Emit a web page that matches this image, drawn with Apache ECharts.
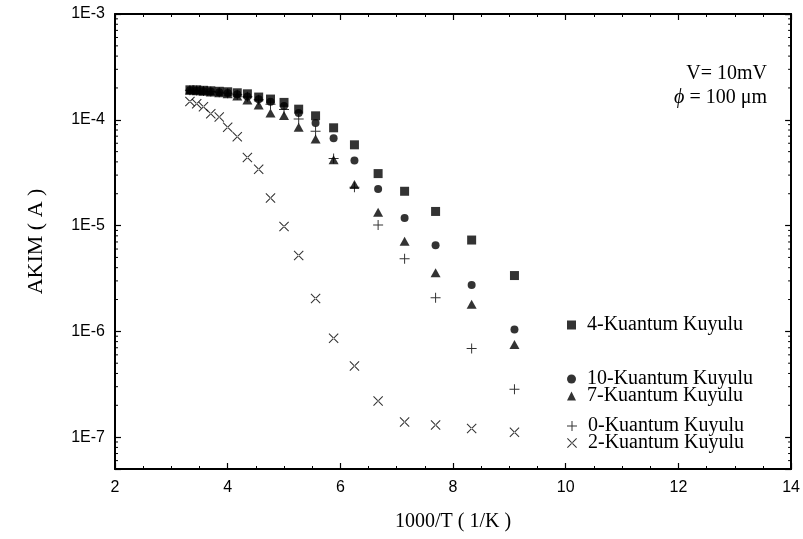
<!DOCTYPE html>
<html>
<head>
<meta charset="utf-8">
<script src="https://cdn.jsdelivr.net/npm/echarts@6/dist/echarts.min.js"></script>
<style>
html,body{margin:0;padding:0;background:#fff;}
#chart{width:803px;height:539px;}
</style>
</head>
<body>
<div id="chart"></div>
<script>
// 1000/T values (1/K)
var xVals = [3.33, 3.45, 3.57, 3.70, 3.85, 4.00, 4.17, 4.35, 4.55, 4.76, 5.00, 5.26, 5.56, 5.88, 6.25, 6.67, 7.14, 7.69, 8.33, 9.09];
// currents (A)
var qw4  = [1.92e-4, 1.92e-4, 1.90e-4, 1.88e-4, 1.86e-4, 1.84e-4, 1.80e-4, 1.76e-4, 1.64e-4, 1.57e-4, 1.46e-4, 1.26e-4, 1.09e-4, 8.4e-5, 5.8e-5, 3.1e-5, 2.11e-5, 1.36e-5, 7.3e-6, 3.37e-6];
var qw10 = [1.90e-4, 1.89e-4, 1.87e-4, 1.85e-4, 1.82e-4, 1.79e-4, 1.74e-4, 1.66e-4, 1.56e-4, 1.48e-4, 1.35e-4, 1.16e-4, 9.3e-5, 6.7e-5, 4.13e-5, 2.22e-5, 1.18e-5, 6.5e-6, 2.74e-6, 1.04e-6];
var qw7  = [1.90e-4, 1.88e-4, 1.86e-4, 1.83e-4, 1.80e-4, 1.76e-4, 1.68e-4, 1.54e-4, 1.38e-4, 1.16e-4, 1.10e-4, 8.5e-5, 6.6e-5, 4.2e-5, 2.44e-5, 1.34e-5, 7.1e-6, 3.58e-6, 1.8e-6, 7.5e-7];
var qw0  = [1.90e-4, 1.89e-4, 1.87e-4, 1.85e-4, 1.82e-4, 1.78e-4, 1.72e-4, 1.65e-4, 1.55e-4, 1.40e-4, 1.25e-4, 1.02e-4, 7.8e-5, 4.3e-5, 2.3e-5, 1.01e-5, 4.85e-6, 2.08e-6, 6.9e-7, 2.84e-7];
var qw2  = [1.49e-4, 1.42e-4, 1.33e-4, 1.14e-4, 1.06e-4, 8.5e-5, 6.9e-5, 4.4e-5, 3.4e-5, 1.82e-5, 9.8e-6, 5.2e-6, 2.05e-6, 8.6e-7, 4.7e-7, 2.2e-7, 1.39e-7, 1.30e-7, 1.21e-7, 1.11e-7];

var seriesNames = ['4-Kuantum Kuyulu', '10-Kuantum Kuyulu', '7-Kuantum Kuyulu', '0-Kuantum Kuyulu', '2-Kuantum Kuyulu'];
var xTicks = [2, 4, 6, 8, 10, 12, 14];
var yTickLabels = ['1E-7', '1E-6', '1E-5', '1E-4', '1E-3'];

var SERIF = '"Liberation Serif", "Times New Roman", serif';
var SANS = '"Liberation Sans", Arial, sans-serif';
var PLUS = 'path://M4.5,0H5.5V10H4.5Z M0,4.5H10V5.5H0Z';
var CROSS = 'path://M0,0.75L0.75,0L10,9.25L9.25,10Z M10,0.75L9.25,0L0,9.25L0.75,10Z';

function pairs(ys) { return xVals.map(function (x, i) { return [x, ys[i]]; }); }

// minor tick positions for the log axis (2..9 x 10^n)
var minorY = [];
for (var e = -8; e <= -4; e++) {
  for (var m = 2; m <= 9; m++) {
    var v = m * Math.pow(10, e);
    if (v > 5e-8 && v < 1e-3) minorY.push([2, v]);
  }
}

var chart = echarts.init(document.getElementById('chart'), null, {renderer: 'canvas'});

var axisLine = {show: true, lineStyle: {color: '#000', width: 2}};

var option = {
  backgroundColor: '#fff',
  animation: false,
  grid: {left: 115, right: 10, top: 14, bottom: 70},
  xAxis: [{
    type: 'value', min: 2, max: 14, interval: 2, position: 'bottom',
    axisLine: axisLine,
    axisTick: {show: true, inside: true, length: 6, lineStyle: {color: '#000', width: 1.2}},
    minorTick: {show: true, splitNumber: 4, length: 3, lineStyle: {color: '#000', width: 1}},
    splitLine: {show: false},
    axisLabel: {color: '#000', fontFamily: SANS, fontSize: 16, margin: 11,
      formatter: function (v) { return xTicks.indexOf(v) >= 0 ? String(v) : ''; }},
    name: '1000/T ( 1/K )', nameLocation: 'middle', nameGap: 43,
    nameTextStyle: {color: '#000', fontFamily: SERIF, fontSize: 20}
  }, {
    type: 'value', min: 2, max: 14, interval: 2, position: 'top',
    axisLine: axisLine,
    axisTick: {show: true, inside: true, length: 6, lineStyle: {color: '#000', width: 1.2}},
    minorTick: {show: true, splitNumber: 4, length: 3, lineStyle: {color: '#000', width: 1}},
    splitLine: {show: false},
    axisLabel: {show: false}
  }],
  yAxis: [{
    type: 'log', logBase: 10, min: 5e-8, max: 1e-3, position: 'left',
    axisLine: axisLine,
    axisTick: {show: true, inside: true, length: 6, lineStyle: {color: '#000', width: 1.2}},
    splitLine: {show: false},
    axisLabel: {color: '#000', fontFamily: SANS, fontSize: 16, margin: 10,
      formatter: function (v) {
        var l = Math.log(v) / Math.LN10;
        if (Math.abs(l - Math.round(l)) > 1e-6) return '';
        var s = '1E' + Math.round(l);
        return yTickLabels.indexOf(s) >= 0 ? s : '';
      }},
    name: 'AKIM ( A )', nameLocation: 'middle', nameGap: 68,
    nameTextStyle: {color: '#000', fontFamily: SERIF, fontSize: 22}
  }, {
    type: 'log', logBase: 10, min: 5e-8, max: 1e-3, position: 'right',
    axisLine: axisLine,
    axisTick: {show: true, inside: true, length: 6, lineStyle: {color: '#000', width: 1.2}},
    splitLine: {show: false},
    axisLabel: {show: false}
  }],
  legend: seriesNames.map(function (n, i) {
    var tops = [310, 364, 381, 411, 428];
    return {
      data: [n], left: 562, top: tops[i], orient: 'vertical',
      itemWidth: i === 3 || i === 4 ? 10 : 9, itemHeight: i === 3 || i === 4 ? 10 : 9,
      selectedMode: false,
      textStyle: {color: '#000', fontFamily: SERIF, fontSize: 20, padding: [0, 0, 0, 6]}
    };
  }),
  graphic: [
    {type: 'text', right: 36, top: 64, style: {text: 'V= 10mV', fontSize: 20, fontFamily: 'Liberation Serif', fill: '#000'}},
    {type: 'text', right: 36, top: 88, style: {text: '{i|ϕ} = 100 μm', fontSize: 20, fontFamily: 'Liberation Serif', fill: '#000',
      rich: {i: {fontStyle: 'italic', fontSize: 20, fontFamily: 'Liberation Serif', fill: '#000'}}}}
  ],
  series: [
    {type: 'custom', name: 'minorTicks', silent: true, xAxisIndex: 0, yAxisIndex: 0, data: minorY,
      renderItem: function (params, api) {
        var p = api.coord([2, api.value(1)]);
        var q = api.coord([14, api.value(1)]);
        return {type: 'group', children: [
          {type: 'line', shape: {x1: p[0], y1: p[1], x2: p[0] + 3, y2: p[1]}, style: {stroke: '#000', lineWidth: 1}},
          {type: 'line', shape: {x1: q[0], y1: q[1], x2: q[0] - 3, y2: q[1]}, style: {stroke: '#000', lineWidth: 1}}
        ]};
      }},
    {type: 'scatter', name: seriesNames[4], data: pairs(qw2), symbol: CROSS, symbolSize: 10,
      itemStyle: {color: '#000'}},
    {type: 'scatter', name: seriesNames[3], data: pairs(qw0), symbol: PLUS, symbolSize: 10,
      itemStyle: {color: '#000'}},
    {type: 'scatter', name: seriesNames[2], data: pairs(qw7), symbol: 'triangle', symbolSize: [10, 9],
      itemStyle: {color: '#000'}},
    {type: 'scatter', name: seriesNames[1], data: pairs(qw10), symbol: 'circle', symbolSize: 8,
      itemStyle: {color: '#000'}},
    {type: 'scatter', name: seriesNames[0], data: pairs(qw4), symbol: 'rect', symbolSize: 9,
      itemStyle: {color: '#000'}}
  ]
};
chart.setOption(option);
</script>
</body>
</html>
